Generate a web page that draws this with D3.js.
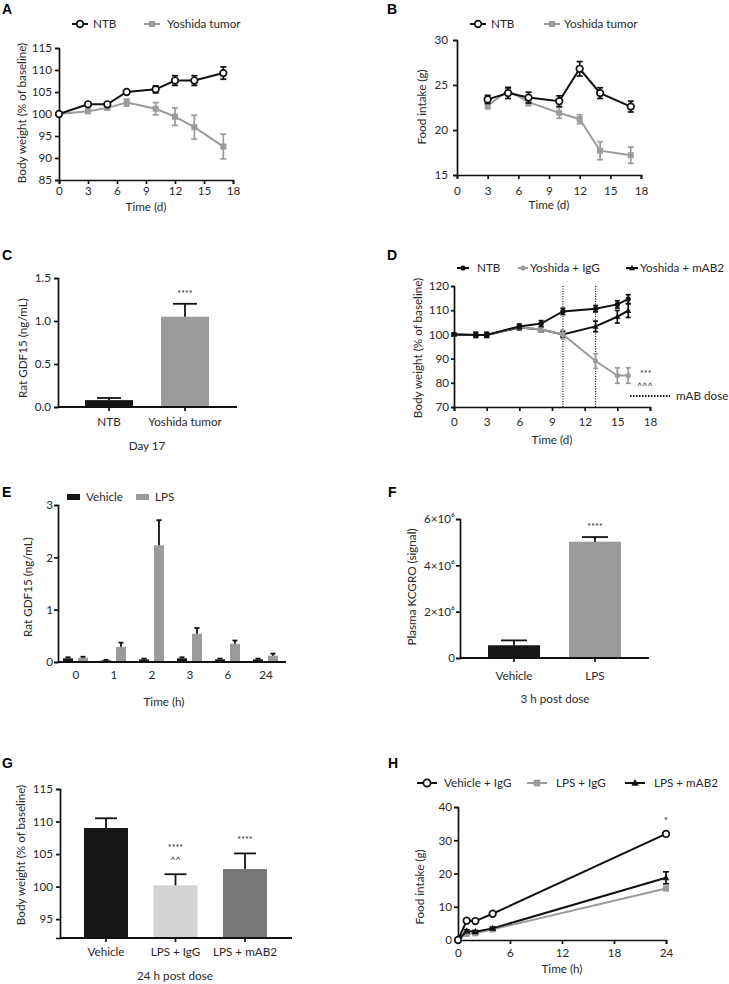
<!DOCTYPE html>
<html><head><meta charset="utf-8">
<script src="https://cdn.jsdelivr.net/npm/d3@7"></script>
<style>body{margin:0;background:#fff}</style>
</head><body>
<script>
// ---------------- DATA ----------------
// Panel A: body weight (% baseline)
const daysA = [0, 3, 5, 7, 10, 12, 14, 17];
const ntbA = [100, 102.2, 102.2, 105, 105.6, 107.6, 107.6, 109.3];
const ntbAErr = [0.2, 0.3, 0.3, 0.3, 0.8, 1.1, 1.1, 1.4];
const yosA = [100, 100.6, 101.4, 102.6, 101.2, 99.4, 97.0, 92.6];
const yosAErr = [0.2, 0.4, 0.4, 0.8, 1.4, 2.0, 2.7, 2.8];
const ticksA_x = [0, 3, 6, 9, 12, 15, 18];
const ticksA_y = [85, 90, 95, 100, 105, 110, 115];

// Panel B: food intake (g)
const daysB = [3, 5, 7, 10, 12, 14, 17];
const ntbB = [23.4, 24.1, 23.6, 23.2, 26.8, 24.1, 22.6];
const ntbBErr = [0.45, 0.6, 0.6, 0.6, 0.8, 0.6, 0.6];
const yosB = [22.7, 24.4, 23.1, 21.9, 21.2, 17.7, 17.2];
const yosBErr = [0.35, 0.4, 0.4, 0.6, 0.5, 1.0, 0.9];
const ticksB_y = [15, 20, 25, 30];

// Panel C: Rat GDF15 day 17
const catsC = ["NTB", "Yoshida tumor"];
const valsC = [0.08, 1.05];
const errC = [0.025, 0.15];
const ticksC_y = [0, 0.5, 1.0, 1.5];

// Panel D: body weight with mAb
const daysD = [0, 2, 3, 6, 8, 10, 13, 15, 16];
const ntbD = [100, 99.8, 99.8, 103.3, 104.5, 109.5, 110.6, 112.4, 114.6];
const ntbDErr = [0.5, 1, 1, 1, 1.2, 1.3, 1.3, 1.5, 1.8];
const iggD = [100, 99.8, 99.8, 103, 102, 100, 89, 83, 83];
const iggDErr = [0.5, 1, 1, 1, 1, 1.8, 3, 3.2, 3.2];
const mabD = [100, 99.8, 99.8, 102.8, 102, 100, 103.3, 107.3, 109.8];
const mabDErr = [0.5, 1, 1, 1, 1, 1.2, 2.2, 2.6, 2.8];
const doseDaysD = [10, 13];
const ticksD_y = [70, 80, 90, 100, 110, 120];

// Panel E: GDF15 after LPS
const groupsE = ["0", "1", "2", "3", "6", "24"];
const vehE = [0.07, 0.03, 0.05, 0.07, 0.05, 0.05];
const vehEErr = [0.02, 0.01, 0.015, 0.02, 0.015, 0.015];
const lpsE = [0.08, 0.29, 2.23, 0.54, 0.35, 0.12];
const lpsEErr = [0.02, 0.08, 0.48, 0.11, 0.06, 0.04];
const ticksE_y = [0, 1, 2, 3];

// Panel F: Plasma KCGRO
const catsF = ["Vehicle", "LPS"];
const valsF = [550000, 5020000];
const errF = [210000, 200000];
const ticksF_y = [0, 2e6, 4e6, 6e6];

// Panel G: body weight 24 h post dose
const catsG = ["Vehicle", "LPS + IgG", "LPS + mAB2"];
const valsG = [109.0, 100.2, 102.7];
const errG = [1.5, 1.7, 2.4];
const ticksG_y = [95, 100, 105, 110, 115];

// Panel H: food intake (g) over hours
const hoursH = [0, 1, 2, 4, 24];
const vehH = [0, 5.8, 5.7, 7.9, 31.9];
const vehHErr = [0.2, 0.3, 0.3, 0.3, 0.7];
const lpsIgH = [0, 1.8, 2.0, 3.2, 15.5];
const lpsIgHErr = [0.2, 0.3, 0.3, 0.3, 0.6];
const mabH = [0, 2.7, 2.5, 3.5, 18.7];
const mabHErr = [0.2, 0.4, 0.4, 0.4, 1.8];
const ticksH_x = [0, 6, 12, 18, 24];
const ticksH_y = [0, 10, 20, 30, 40];

// ---------------- DRAWING ----------------
const FONT = "Lato, 'Open Sans', 'Noto Sans', sans-serif";
const FS = 11.7;
const TXT = "#2a2a2a";
const GRAY = "#9b9b9b";
const AX = "#111";

const svg = d3.select("body").append("svg").attr("width", 729).attr("height", 984)
  .style("font-family", FONT);

function panelLabel(t, x, y) {
  svg.append("text").attr("x", x).attr("y", y).text(t)
    .attr("font-family", "'Liberation Sans', Arial, sans-serif")
    .attr("font-weight", "bold").attr("font-size", 14).attr("fill", "#000");
}
function txt(x, y, t, size, anchor, color) {
  return svg.append("text").attr("x", x).attr("y", y).text(t)
    .attr("font-size", size || FS).attr("text-anchor", anchor || "start")
    .attr("fill", color || TXT);
}
function yTitle(t, x, cy) {
  svg.append("text").attr("transform", `translate(${x},${cy}) rotate(-90)`)
    .attr("text-anchor", "middle").attr("dy", "0.35em").attr("font-size", FS)
    .attr("fill", TXT).text(t);
}
function styleAxis(g) {
  g.selectAll("path, line").attr("stroke", AX).attr("stroke-width", 1.7);
  g.selectAll("text").attr("fill", TXT).attr("font-size", FS).attr("font-family", FONT);
}
function marker(g, type, x, y, s, color) {
  if (type === "ocircle") {
    g.append("circle").attr("cx", x).attr("cy", y).attr("r", s)
      .attr("fill", "#fff").attr("stroke", color).attr("stroke-width", 1.7);
  } else if (type === "circle") {
    g.append("circle").attr("cx", x).attr("cy", y).attr("r", s).attr("fill", color);
  } else if (type === "square") {
    g.append("rect").attr("x", x - s).attr("y", y - s).attr("width", 2 * s).attr("height", 2 * s).attr("fill", color);
  } else if (type === "triangle") {
    g.append("path").attr("d", `M${x},${y - s * 1.1}L${x + s},${y + s * 0.75}L${x - s},${y + s * 0.75}Z`).attr("fill", color);
  }
}
function errBars(g, xs, ys, es, xS, yS, color, cap, width, bothSides) {
  xs.forEach((xv, i) => {
    const cx = xS(xv);
    const top = yS(ys[i] + es[i]);
    const bot = bothSides ? yS(ys[i] - es[i]) : yS(ys[i]);
    g.append("line").attr("x1", cx).attr("x2", cx).attr("y1", top).attr("y2", bot)
      .attr("stroke", color).attr("stroke-width", width);
    g.append("line").attr("x1", cx - cap).attr("x2", cx + cap).attr("y1", top).attr("y2", top)
      .attr("stroke", color).attr("stroke-width", width);
    if (bothSides) g.append("line").attr("x1", cx - cap).attr("x2", cx + cap).attr("y1", bot).attr("y2", bot)
      .attr("stroke", color).attr("stroke-width", width);
  });
}
function series(xS, yS, s) {
  const g = svg.append("g");
  const line = d3.line().x((d, i) => xS(s.xs[i])).y(d => yS(d));
  g.append("path").attr("d", line(s.ys)).attr("fill", "none").attr("stroke", s.color)
    .attr("stroke-width", s.lw || 2);
  errBars(g, s.xs, s.ys, s.es, xS, yS, s.errColor || s.color, s.cap || 3, s.ew || 1.7, true);
  s.xs.forEach((xv, i) => marker(g, s.marker, xS(xv), yS(s.ys[i]), s.size, s.mcolor || s.color));
}
function lineAxes(xS, yS, xt, yt, opt) {
  const xa = svg.append("g").attr("transform", `translate(0,${yS.range()[0]})`)
    .call(d3.axisBottom(xS).tickValues(xt).tickSizeOuter(0).tickSize(4).tickPadding(opt.xpad));
  styleAxis(xa);
  const ya = svg.append("g").attr("transform", `translate(${xS.range()[0]},0)`)
    .call(d3.axisLeft(yS).tickValues(yt).tickSizeOuter(0).tickSize(opt.ytick || 4).tickPadding(opt.ypad)
      .tickFormat(opt.yfmt || (d => d)));
  styleAxis(ya);
}
function legendItem(x, y, type, color, label, textX, half, size) {
  const g = svg.append("g");
  g.append("line").attr("x1", x - half).attr("x2", x + half).attr("y1", y).attr("y2", y)
    .attr("stroke", color).attr("stroke-width", 2);
  marker(g, type, x, y, size, color);
  txt(textX, y + 4, label, FS);
}
function barPanel(o) {
  const xS = d3.scaleBand().domain(o.cats).range(o.brange).paddingInner(o.pin).paddingOuter(0);
  const yS = d3.scaleLinear().domain(o.ydom).range(o.yrange);
  const g = svg.append("g");
  o.cats.forEach((c, i) => {
    g.append("rect").attr("x", xS(c)).attr("y", yS(o.vals[i])).attr("width", xS.bandwidth())
      .attr("height", yS(o.ydom[0]) - yS(o.vals[i])).attr("fill", o.colors[i]);
  });
  const cx = d => xS(d) + xS.bandwidth() / 2;
  errBars(g, o.cats, o.vals, o.errs, cx, yS, AX, xS.bandwidth() / 4, 1.8, false);
  const xa = svg.append("g").attr("transform", `translate(0,${o.yrange[0]})`)
    .call(d3.axisBottom(xS).tickSize(4).tickPadding(o.xpad));
  xa.select(".domain").remove();
  styleAxis(xa);
  svg.append("line").attr("x1", o.axisX[0]).attr("x2", o.axisX[1]).attr("y1", o.yrange[0]).attr("y2", o.yrange[0])
    .attr("stroke", AX).attr("stroke-width", 1.8);
  const ya = svg.append("g").attr("transform", `translate(${o.axisX[0]},0)`)
    .call(d3.axisLeft(yS).tickValues(o.yticks).tickSizeOuter(0).tickSize(4).tickPadding(o.ypad)
      .tickFormat(o.yfmt || (d => d)));
  styleAxis(ya);
  return { xS, yS, cx };
}

// ---------- Panel A ----------
panelLabel("A", 2, 14);
{
  const xS = d3.scaleLinear().domain([0, 18]).range([59, 233]);
  const yS = d3.scaleLinear().domain([85, 115]).range([180, 48]);
  lineAxes(xS, yS, ticksA_x, ticksA_y, { xpad: 3, ypad: 3 });
  series(xS, yS, { xs: daysA, ys: yosA, es: yosAErr, color: GRAY, marker: "square", size: 3 });
  series(xS, yS, { xs: daysA, ys: ntbA, es: ntbAErr, color: AX, marker: "ocircle", size: 3.3 });
  yTitle("Body weight (% of baseline)", 22, 113);
  txt(146, 211, "Time (d)", FS, "middle");
  legendItem(80, 24, "ocircle", AX, "NTB", 93, 8, 3.3);
  legendItem(152, 24, "square", GRAY, "Yoshida tumor", 167, 8, 3);
}

// ---------- Panel B ----------
panelLabel("B", 387, 14);
{
  const xS = d3.scaleLinear().domain([0, 18]).range([457, 641]);
  const yS = d3.scaleLinear().domain([15, 30]).range([175, 40]);
  lineAxes(xS, yS, ticksA_x, ticksB_y, { xpad: 8, ypad: 5 });
  series(xS, yS, { xs: daysB, ys: yosB, es: yosBErr, color: GRAY, marker: "square", size: 3 });
  series(xS, yS, { xs: daysB, ys: ntbB, es: ntbBErr, color: AX, marker: "ocircle", size: 3.3 });
  yTitle("Food intake (g)", 422, 107);
  txt(549, 209, "Time (d)", FS, "middle");
  legendItem(478, 24, "ocircle", AX, "NTB", 491, 8, 3.3);
  legendItem(552, 24, "square", GRAY, "Yoshida tumor", 564, 8, 3);
}

// ---------- Panel C ----------
panelLabel("C", 2, 260);
{
  const p = barPanel({
    cats: catsC, vals: valsC, errs: errC, colors: ["#161616", GRAY],
    brange: [85, 209], pin: 0.368, ydom: [0, 1.5], yrange: [407, 278],
    axisX: [58, 237], yticks: ticksC_y, yfmt: d3.format(".1f"), xpad: 7, ypad: 3
  });
  txt(p.cx("Yoshida tumor"), 297, "****", 9, "middle");
  yTitle("Rat GDF15 (ng/mL)", 23, 348);
  txt(147, 450, "Day 17", FS, "middle");
}

// ---------- Panel D ----------
panelLabel("D", 387, 260);
{
  const xS = d3.scaleLinear().domain([0, 18]).range([454, 650]);
  const yS = d3.scaleLinear().domain([70, 120]).range([407, 286]);
  doseDaysD.forEach(d => {
    svg.append("line").attr("x1", xS(d)).attr("x2", xS(d)).attr("y1", yS(120)).attr("y2", yS(70))
      .attr("stroke", AX).attr("stroke-width", 1.2).attr("stroke-dasharray", "1,1.5");
  });
  lineAxes(xS, yS, ticksA_x, ticksD_y, { xpad: 7, ypad: 2, ytick: 3 });
  series(xS, yS, { xs: daysD, ys: mabD, es: mabDErr, color: AX, marker: "triangle", size: 3, cap: 2.5 });
  series(xS, yS, { xs: daysD, ys: iggD, es: iggDErr, color: GRAY, marker: "circle", size: 2.6, cap: 2.5 });
  series(xS, yS, { xs: daysD, ys: ntbD, es: ntbDErr, color: AX, marker: "circle", size: 2.6, cap: 2.5 });
  txt(640, 377, "***", 9, "start");
  txt(637, 389, "^^^", 9, "start");
  svg.append("line").attr("x1", 630).attr("x2", 670).attr("y1", 396).attr("y2", 396)
    .attr("stroke", AX).attr("stroke-width", 2).attr("stroke-dasharray", "1.5,1.5");
  txt(676, 400, "mAB dose", FS);
  yTitle("Body weight (% of baseline)", 418, 348);
  txt(552, 444, "Time (d)", FS, "middle");
  legendItem(463, 268, "circle", AX, "NTB", 477, 6, 2.6);
  legendItem(523, 268, "circle", GRAY, "Yoshida + IgG", 530, 5, 2.6);
  legendItem(632, 268, "triangle", AX, "Yoshida + mAB2", 640, 6, 3);
}

// ---------- Panel E ----------
panelLabel("E", 2, 497);
{
  const xS = d3.scaleBand().domain(groupsE).range([57, 285]).paddingInner(0).paddingOuter(0);
  const sub = d3.scaleBand().domain(["Vehicle", "LPS"]).range([-13, 12]).paddingInner(0.33);
  const yS = d3.scaleLinear().domain([0, 3]).range([662, 505]);
  const g = svg.append("g");
  const sets = [{ k: "Vehicle", v: vehE, e: vehEErr, c: "#161616" }, { k: "LPS", v: lpsE, e: lpsEErr, c: GRAY }];
  sets.forEach(s => {
    groupsE.forEach((grp, i) => {
      const x0 = xS(grp) + xS.bandwidth() / 2 + sub(s.k);
      g.append("rect").attr("x", x0).attr("y", yS(s.v[i])).attr("width", sub.bandwidth())
        .attr("height", yS(0) - yS(s.v[i])).attr("fill", s.c);
    });
    const cx = grp => xS(grp) + xS.bandwidth() / 2 + sub(s.k) + sub.bandwidth() / 2;
    errBars(g, groupsE, s.v, s.e, cx, yS, AX, 2.5, 1.8, false);
  });
  const xa = svg.append("g").attr("transform", `translate(0,662)`)
    .call(d3.axisBottom(xS).tickSize(0).tickPadding(9));
  xa.select(".domain").remove();
  styleAxis(xa);
  svg.append("line").attr("x1", 58).attr("x2", 286).attr("y1", 662).attr("y2", 662)
    .attr("stroke", AX).attr("stroke-width", 1.8);
  const ya = svg.append("g").attr("transform", `translate(58,0)`)
    .call(d3.axisLeft(yS).tickValues(ticksE_y).tickSizeOuter(0).tickSize(4).tickPadding(1)
      .tickFormat(d => d));
  styleAxis(ya);
  yTitle("Rat GDF15 (ng/mL)", 28, 587);
  txt(164, 706, "Time (h)", FS, "middle");
  svg.append("rect").attr("x", 67).attr("y", 494).attr("width", 13).attr("height", 6).attr("fill", "#161616");
  txt(86, 501, "Vehicle", FS);
  svg.append("rect").attr("x", 136).attr("y", 494).attr("width", 13).attr("height", 6).attr("fill", GRAY);
  txt(155, 501, "LPS", FS);
}

// ---------- Panel F ----------
panelLabel("F", 388, 497);
{
  const sup = "⁶";
  const p = barPanel({
    cats: catsF, vals: valsF, errs: errF, colors: ["#161616", GRAY],
    brange: [488, 621], pin: 0.358, ydom: [0, 6e6], yrange: [658, 519],
    axisX: [460, 649], yticks: ticksF_y, xpad: 10, ypad: 1,
    yfmt: d => d === 0 ? "0" : (d / 1e6) + "×10" + sup
  });
  txt(p.cx("LPS"), 530, "****", 9, "middle");
  yTitle("Plasma KCGRO (signal)", 412, 587);
  txt(555, 703, "3 h post dose", FS, "middle");
}

// ---------- Panel G ----------
panelLabel("G", 2, 768);
{
  const p = barPanel({
    cats: catsG, vals: valsG, errs: errG, colors: ["#161616", "#d3d3d3", "#777777"],
    brange: [84, 267], pin: 0.367, ydom: [92.1, 115], yrange: [938, 789],
    axisX: [60, 292], yticks: ticksG_y, xpad: 6, ypad: 3
  });
  txt(p.cx("LPS + IgG"), 851, "****", 9, "middle");
  txt(p.cx("LPS + IgG"), 863, "^^", 9, "middle");
  txt(p.cx("LPS + mAB2"), 843, "****", 9, "middle");
  yTitle("Body weight (% of baseline)", 21, 855);
  txt(175, 980, "24 h post dose", FS, "middle");
}

// ---------- Panel H ----------
panelLabel("H", 388, 768);
{
  const xS = d3.scaleLinear().domain([0, 24]).range([458, 666]);
  const yS = d3.scaleLinear().domain([0, 40]).range([940, 807]);
  lineAxes(xS, yS, ticksH_x, ticksH_y, { xpad: 5, ypad: 2 });
  series(xS, yS, { xs: hoursH, ys: lpsIgH, es: lpsIgHErr, color: GRAY, marker: "square", size: 3 });
  series(xS, yS, { xs: hoursH, ys: mabH, es: mabHErr, color: AX, marker: "triangle", size: 3.3 });
  series(xS, yS, { xs: hoursH, ys: vehH, es: vehHErr, color: AX, marker: "ocircle", size: 3.3 });
  txt(xS(24), 824, "*", 10, "middle");
  yTitle("Food intake (g)", 420, 887);
  txt(562, 973, "Time (h)", FS, "middle");
  legendItem(427, 783, "ocircle", AX, "Vehicle + IgG", 444, 10, 3.6);
  legendItem(537, 783, "square", GRAY, "LPS + IgG", 556, 10, 3.3);
  legendItem(635, 783, "triangle", AX, "LPS + mAB2", 654, 10, 3.6);
}
</script>
</body></html>
